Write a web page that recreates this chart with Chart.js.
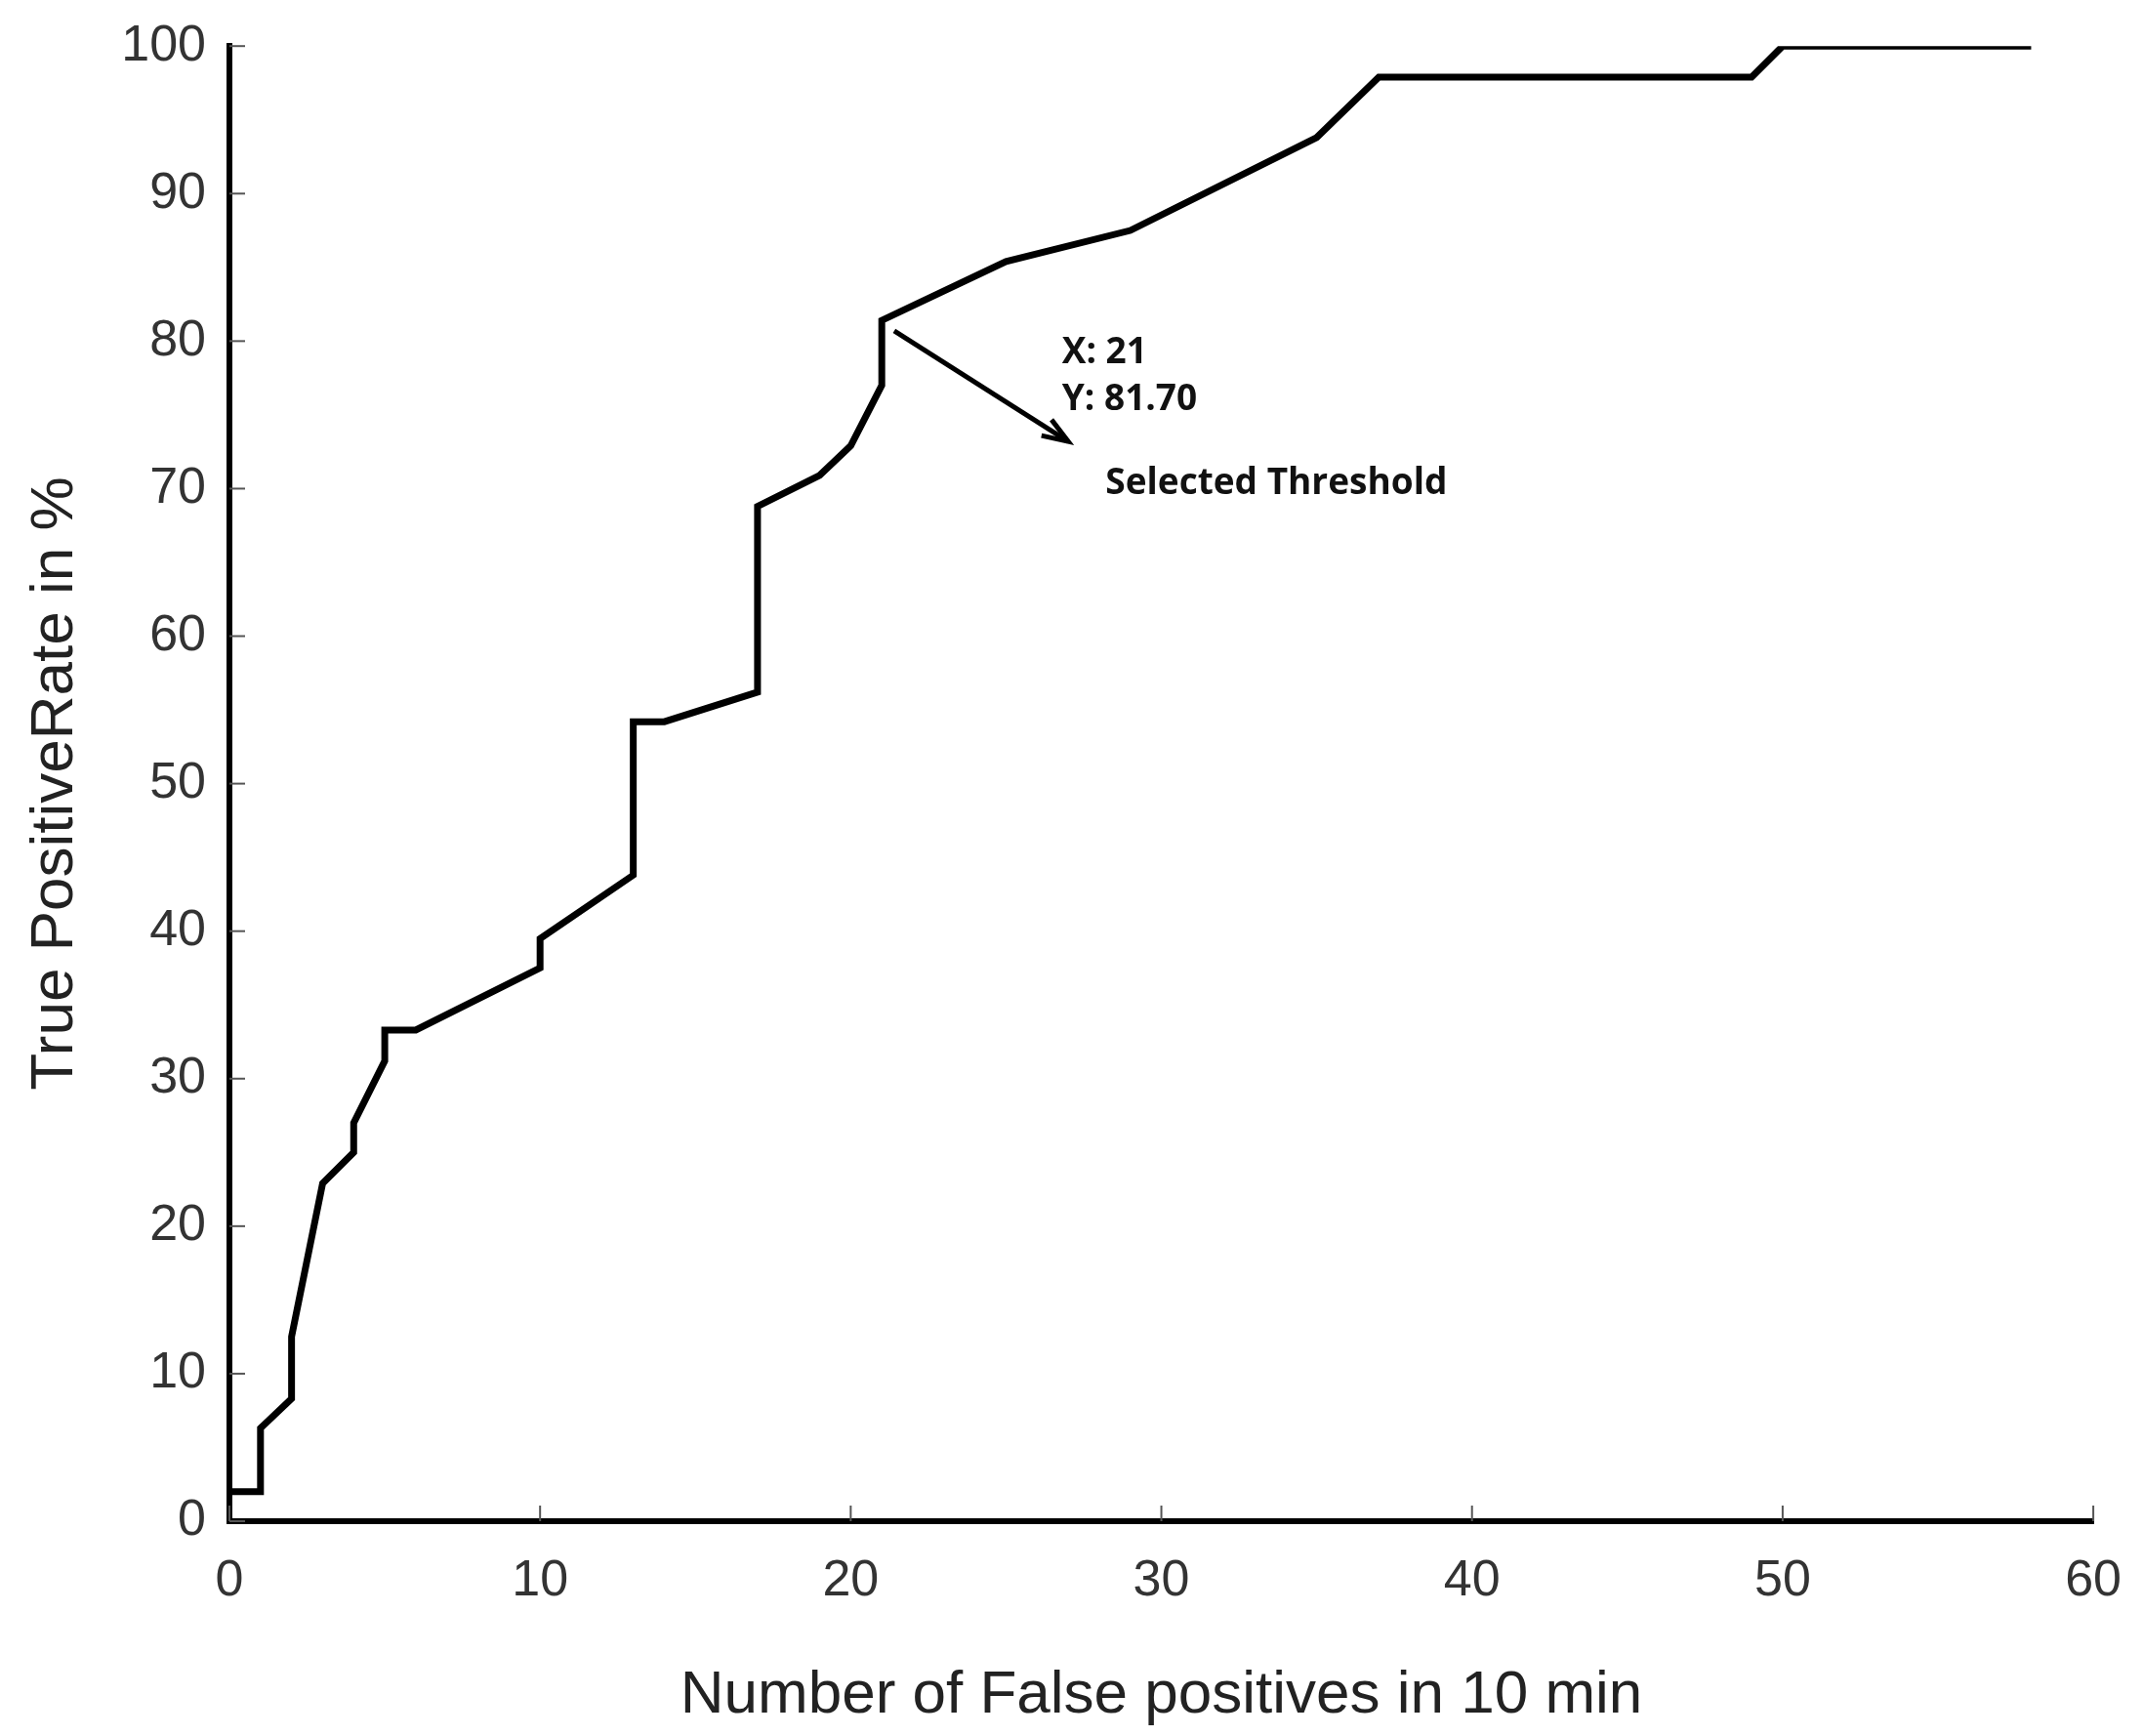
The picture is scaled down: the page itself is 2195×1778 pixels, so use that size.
<!DOCTYPE html>
<html><head><meta charset="utf-8">
<script src="https://cdn.jsdelivr.net/npm/chart.js@4/dist/chart.umd.min.js"></script>
<style>html,body{margin:0;padding:0;background:#fff}</style></head>
<body><canvas id="c" width="2195" height="1778"></canvas>
<script>
const xValues=[0,1,1,2,2,3,4,4,5,5,6,10,10,13,13,14,17,17,19,20,21,21,25,29,35,37,49,50,58];
const yValues=[2,2,6.3,8.3,12.5,22.9,25,27,31.2,33.3,33.3,37.5,39.5,43.8,54.2,54.2,56.2,68.8,70.9,72.9,77,81.4,85.4,87.5,93.8,97.9,97.9,100,100];
const xTicks=[0,10,20,30,40,50,60];
const yTicks=[0,10,20,30,40,50,60,70,80,90,100];
const arrowFrom=[21.4,80.7], arrowTo=[27,73.2];
const notes=[["X: 21",26.8,79.2],["Y: 81.70",26.8,76.0],["Selected Threshold",28.2,70.3]];

const deco={id:'deco',afterDatasetsDraw(ch){
  const c=ch.ctx,xs=ch.scales.x,ys=ch.scales.y;
  c.save();
  c.strokeStyle='#555';c.lineWidth=2;
  xTicks.forEach(v=>{const p=xs.getPixelForValue(v);c.beginPath();c.moveTo(p,ys.bottom);c.lineTo(p,ys.bottom-16);c.stroke();});
  yTicks.forEach(v=>{const p=ys.getPixelForValue(v);c.beginPath();c.moveTo(xs.left,p);c.lineTo(xs.left+16,p);c.stroke();});
  const x1=xs.getPixelForValue(arrowFrom[0]),y1=ys.getPixelForValue(arrowFrom[1]);
  const x2=xs.getPixelForValue(arrowTo[0]),y2=ys.getPixelForValue(arrowTo[1]);
  c.strokeStyle='#000';c.lineWidth=5;c.beginPath();c.moveTo(x1,y1);c.lineTo(x2,y2);c.stroke();
  const a=Math.atan2(y2-y1,x2-x1);
  c.beginPath();c.moveTo(x2-28*Math.cos(a-0.35),y2-28*Math.sin(a-0.35));c.lineTo(x2,y2);c.lineTo(x2-28*Math.cos(a+0.35),y2-28*Math.sin(a+0.35));c.stroke();
  c.fillStyle='#111';c.font='bold 37px "Open Sans"';c.textBaseline='middle';
  notes.forEach(n=>c.fillText(n[0],xs.getPixelForValue(n[1]),ys.getPixelForValue(n[2])));
  c.restore();
}};

new Chart(document.getElementById('c'),{
  type:'line',
  data:{datasets:[{data:xValues.map((x,i)=>({x,y:yValues[i]})),borderColor:'#000',borderWidth:7,pointRadius:0,tension:0,fill:false}]},
  options:{responsive:false,animation:false,
    layout:{padding:{left:0,top:38,right:49,bottom:0}},
    plugins:{legend:{display:false},tooltip:{enabled:false}},
    scales:{
      x:{type:'linear',min:0,max:60,
        afterBuildTicks(s){s.ticks=xTicks.map(v=>({value:v}));},
        afterFit(s){s.height=220;},
        grid:{display:false},border:{display:true,color:'#000',width:6},
        ticks:{color:'#333',font:{family:'Liberation Sans',size:52},padding:22},
        title:{display:true,text:'Number of False positives in 10 min',color:'#222',font:{family:'Liberation Sans',size:62},padding:{top:8}}},
      y:{type:'linear',min:0,max:100,
        afterBuildTicks(s){s.ticks=yTicks.map(v=>({value:v}));},
        afterFit(s){s.width=235;},
        grid:{display:false},border:{display:true,color:'#000',width:6},
        ticks:{color:'#333',font:{family:'Liberation Sans',size:52},padding:16},
        title:{display:true,text:'True PositiveRate in %',color:'#222',font:{family:'Liberation Sans',size:62},padding:{top:20,bottom:4}}}
    }},
  plugins:[deco]
});
</script></body></html>
